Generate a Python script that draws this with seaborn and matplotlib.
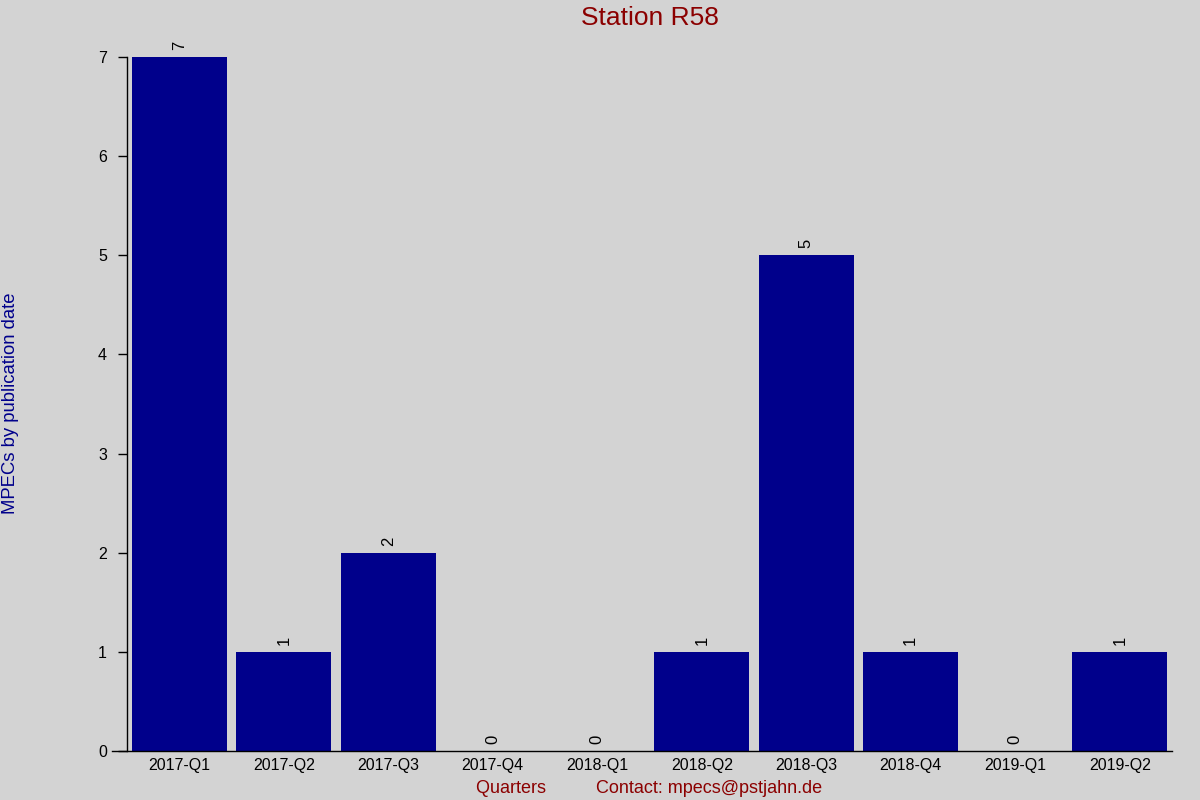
import matplotlib
matplotlib.use("Agg")
import matplotlib.pyplot as plt
import seaborn as sns
import pandas as pd

quarters = ["2017-Q1", "2017-Q2", "2017-Q3", "2017-Q4", "2018-Q1",
            "2018-Q2", "2018-Q3", "2018-Q4", "2019-Q1", "2019-Q2"]
counts = [7, 1, 2, 0, 0, 1, 5, 1, 0, 1]

title = "Station R58"
ylabel = "MPECs by publication date"
xlabel = "Quarters          Contact: mpecs@pstjahn.de"

sns.set_theme(style="ticks")
plt.rcParams['font.family'] = ['Liberation Sans', 'DejaVu Sans']

bg = "#d3d3d3"
fig = plt.figure(figsize=(12, 8), dpi=100, facecolor=bg)
ax = fig.add_axes([127/1200, 1 - 751/800, (1172 - 127)/1200, (751 - 57)/800])
ax.set_facecolor(bg)

df = pd.DataFrame({"quarter": quarters, "count": counts})
sns.barplot(data=df, x="quarter", y="count", color="#00008b", saturation=1,
            width=0.91, linewidth=0, edgecolor="none", ax=ax)

for c in ax.containers:
    ax.bar_label(c, labels=[str(v) for v in counts], rotation=90, padding=5,
                 fontsize=12, color="black")

ax.set_xlim(-0.5, 9.5)
ax.set_ylim(0, 7)
ax.set_yticks(range(0, 8))
ax.tick_params(axis='y', length=6.5, width=1, colors='black', labelsize=11.5, pad=8)
ax.tick_params(axis='x', length=0, labelsize=11.5, colors='black', pad=5)
for s in ["top", "right"]:
    ax.spines[s].set_visible(False)
for s in ["left", "bottom"]:
    ax.spines[s].set_color("black")
    ax.spines[s].set_linewidth(1)
ax.spines["bottom"].set_bounds(-0.64, 9.5)

ax.set_title(title, color="#8b0000", fontsize=19, pad=23)
ax.set_xlabel(xlabel, color="#8b0000", fontsize=13, labelpad=5)
ax.set_ylabel("")
fig.text(11/1200, 1 - 403/800, ylabel, rotation=90, color="#00008b",
         fontsize=13.3, ha="center", va="center")

fig.savefig("out.png", dpi=100, facecolor=bg)
